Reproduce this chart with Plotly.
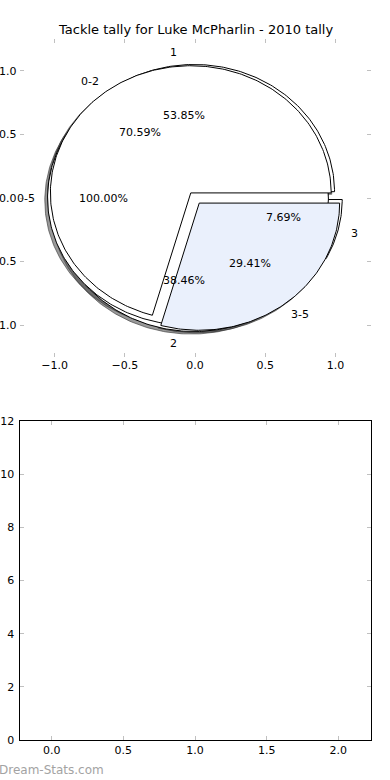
import numpy as np
import plotly.graph_objects as go

# ---------------- data ----------------
title_text = "Tackle tally for Luke McPharlin - 2010 tally"

# three pies drawn on top of each other (drawing order: A, B, C)
pie_a_labels = ["1", "2", "3"]
pie_a_values = [7, 5, 1]
pie_a_colors = ["#ffffff", "#ffffff", "#ffffff"]

pie_b_labels = ["0-5"]
pie_b_values = [17]
pie_b_colors = ["#ffffff"]

pie_c_labels = ["0-2", "3-5"]
pie_c_values = [12, 5]
pie_c_colors = ["#ffffff", "#eaf0fc"]

pie_ticks = [-1.0, -0.5, 0.0, 0.5, 1.0]
bar_x_ticks = [0.0, 0.5, 1.0, 1.5, 2.0]
bar_y_ticks = [0, 2, 4, 6, 8, 10, 12]

watermark = "Dream-Stats.com"

EXPLODE = 0.05
LABEL_DIST = 1.1
PCT_DIST = 0.6
SHADOW = 0.02


def wedge_geometry(values):
    vals = np.asarray(values, dtype=float)
    fr = vals / vals.sum()
    edges = np.concatenate([[0.0], np.cumsum(fr)]) * 2 * np.pi
    out = []
    for i, f in enumerate(fr):
        t1, t2 = edges[i], edges[i + 1]
        mid = 0.5 * (t1 + t2)
        cx, cy = EXPLODE * np.cos(mid), EXPLODE * np.sin(mid)
        t = np.linspace(t1, t2, max(4, int(400 * f)))
        if f >= 0.999999:
            xs = cx + np.cos(t)
            ys = cy + np.sin(t)
        else:
            xs = np.concatenate([[cx], cx + np.cos(t), [cx]])
            ys = np.concatenate([[cy], cy + np.sin(t), [cy]])
        out.append(dict(
            x=xs, y=ys, frac=f,
            lx=cx + LABEL_DIST * np.cos(mid), ly=cy + LABEL_DIST * np.sin(mid),
            px=cx + PCT_DIST * np.cos(mid), py=cy + PCT_DIST * np.sin(mid),
        ))
    return out


pies = [
    (pie_a_labels, pie_a_values, pie_a_colors),
    (pie_b_labels, pie_b_values, pie_b_colors),
    (pie_c_labels, pie_c_values, pie_c_colors),
]
geoms = [wedge_geometry(v) for _, v, _ in pies]

fig = go.Figure()

# shadows first (they sit below every wedge)
for g in geoms:
    for w in g:
        fig.add_trace(go.Scatter(
            x=w["x"] - SHADOW, y=w["y"] - SHADOW, mode="lines",
            fill="toself", fillcolor="rgba(70,70,70,0.55)",
            line=dict(color="rgba(50,50,50,0.6)", width=1),
            hoverinfo="skip", showlegend=False, xaxis="x", yaxis="y",
        ))

# wedges
annotations = []
for (labels, values, colors), g in zip(pies, geoms):
    for lab, col, w in zip(labels, colors, g):
        fig.add_trace(go.Scatter(
            x=w["x"], y=w["y"], mode="lines",
            fill="toself", fillcolor=col,
            line=dict(color="black", width=1),
            hoverinfo="skip", showlegend=False, xaxis="x", yaxis="y",
        ))
        right_side = w["lx"] > 0
        annotations.append(dict(
            x=w["lx"], y=w["ly"], xref="x", yref="y", text=lab,
            showarrow=False, xanchor="left" if right_side else "right",
            xshift=-2 if right_side else 2,
            yanchor="middle", font=dict(size=11, color="black"),
            borderpad=0,
        ))
        annotations.append(dict(
            x=w["px"], y=w["py"], xref="x", yref="y",
            text=f"{100 * w['frac']:.2f}%",
            showarrow=False, xanchor="center", yanchor="middle",
            font=dict(size=11, color="black"), borderpad=0,
        ))

# empty lower axes
fig.add_trace(go.Scatter(x=[], y=[], mode="markers", showlegend=False,
                         xaxis="x2", yaxis="y2"))

annotations.append(dict(
    x=0.5, y=1 - 30 / 780, xref="paper", yref="paper", text=title_text,
    showarrow=False, xanchor="center", yanchor="middle",
    font=dict(size=13, color="black"),
))
annotations.append(dict(
    x=0, y=1 - 770 / 780, xref="paper", yref="paper", text=watermark,
    showarrow=False, xanchor="left", yanchor="middle", xshift=-3,
    font=dict(size=12, color="#a3a3a3"),
))

tick_common = dict(
    ticks="inside", ticklen=4, tickwidth=1, tickcolor="#c0c0c0",
    showgrid=False, zeroline=False, tickfont=dict(size=11, color="black"),
    automargin=False,
)

fig.update_layout(
    width=390, height=780,
    margin=dict(l=0, r=0, t=0, b=0),
    paper_bgcolor="white", plot_bgcolor="white",
    font=dict(family="DejaVu Sans", color="black"),
    showlegend=False,
    annotations=annotations,
    xaxis=dict(domain=[0.05, 0.95], range=[-1.25, 1.25], anchor="y",
               tickvals=pie_ticks, tickformat=".1f", showline=False,
               mirror="ticks", **tick_common),
    yaxis=dict(domain=[1 - 357 / 780, 1 - 39 / 780], range=[-1.25, 1.25],
               anchor="x", tickvals=pie_ticks, tickformat=".1f",
               showline=False, mirror="ticks", ticklabelstandoff=2,
               **tick_common),
    xaxis2=dict(domain=[0.05, 0.95], range=[-0.225, 2.225], anchor="y2",
                tickvals=bar_x_ticks, tickformat=".1f", showline=True,
                linecolor="black", linewidth=1, mirror="ticks", **tick_common),
    yaxis2=dict(domain=[1 - 740 / 780, 1 - 421 / 780], range=[0, 12],
                anchor="x2", tickvals=bar_y_ticks, showline=True,
                linecolor="black", linewidth=1, mirror="ticks",
                ticklabelstandoff=2, **tick_common),
)

fig.write_html(
    "out.html",
    config={"displayModeBar": False},
    post_script="document.body.style.margin='0';document.body.style.padding='0';",
)
